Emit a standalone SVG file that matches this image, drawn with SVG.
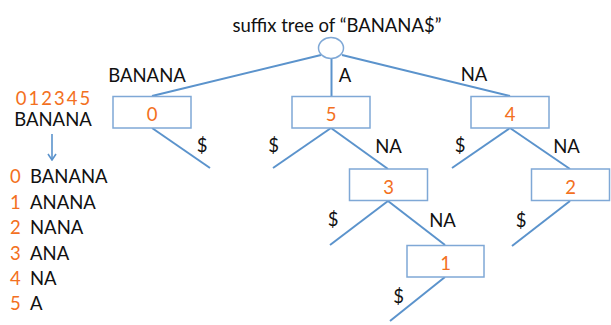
<svg xmlns="http://www.w3.org/2000/svg" width="611" height="325" viewBox="0 0 611 325">
  <defs>
    <style>
      text { font-family: Lato, "Liberation Sans", sans-serif; font-size: 18.5px; fill: #111; }
      .num { fill: #F37021; }
      .mid { text-anchor: middle; }
      .edge { stroke: #5B93CC; stroke-width: 2; fill: none; }
      .box { fill: #fff; stroke: #7FA8D6; stroke-width: 1.5; }
    </style>
    <!-- open V arrowhead, drawn pointing along +x -->
    <marker id="arrow" viewBox="0 0 10 10" refX="9" refY="5" markerWidth="10" markerHeight="10" orient="auto" markerUnits="userSpaceOnUse">
      <path d="M3,1 L9,5 L3,9" fill="none" stroke="#5B93CC" stroke-width="1.6"/>
    </marker>
  </defs>
  <rect width="611" height="325" fill="#fff"/>

  <text class="mid" x="337" y="32">suffix tree of “BANANA$”</text>

  <!-- index panel -->
  <g id="index-panel">
    <text class="num mid" x="54" y="105" letter-spacing="2">012345</text>
    <text class="mid" x="53" y="126">BANANA</text>
    <line x1="52" y1="134" x2="52" y2="160" stroke="#5B93CC" stroke-width="1.6" marker-end="url(#arrow)"/>
    <text class="num" x="10" y="183">0</text><text x="30" y="183">BANANA</text>
    <text class="num" x="10" y="208.5">1</text><text x="30" y="208.5">ANANA</text>
    <text class="num" x="10" y="234">2</text><text x="30" y="234">NANA</text>
    <text class="num" x="10" y="259.5">3</text><text x="30" y="259.5">ANA</text>
    <text class="num" x="10" y="285">4</text><text x="30" y="285">NA</text>
    <text class="num" x="10" y="310">5</text><text x="30" y="310">A</text>
  </g>

  <!-- tree edges -->
  <g id="edges">
    <line class="edge" x1="321" y1="55" x2="152" y2="96"/>
    <line class="edge" x1="331.5" y1="58" x2="331.5" y2="96"/>
    <line class="edge" x1="342" y1="55" x2="510" y2="96"/>
    <line class="edge" x1="152" y1="128" x2="210" y2="168"/>
    <line class="edge" x1="331" y1="128" x2="273" y2="168"/>
    <line class="edge" x1="331" y1="128" x2="388" y2="169"/>
    <line class="edge" x1="510" y1="128" x2="452" y2="168"/>
    <line class="edge" x1="510" y1="128" x2="570" y2="169"/>
    <line class="edge" x1="388" y1="201" x2="330" y2="245"/>
    <line class="edge" x1="388" y1="201" x2="445" y2="245"/>
    <line class="edge" x1="570" y1="201" x2="512" y2="246"/>
    <line class="edge" x1="445" y1="277" x2="390" y2="321"/>

    <text class="mid" x="147" y="82">BANANA</text>
    <text class="mid" x="345" y="82">A</text>
    <text class="mid" x="474" y="81">NA</text>
    <text class="mid" x="202" y="152">$</text>
    <text class="mid" x="273.5" y="152">$</text>
    <text class="mid" x="388.5" y="153">NA</text>
    <text class="mid" x="460" y="152">$</text>
    <text class="mid" x="566.5" y="153">NA</text>
    <text class="mid" x="333" y="226">$</text>
    <text class="mid" x="442.5" y="227">NA</text>
    <text class="mid" x="521" y="227">$</text>
    <text class="mid" x="398.5" y="303">$</text>
  </g>

  <!-- nodes -->
  <g id="root">
    <ellipse cx="331" cy="48" rx="12.5" ry="10.5" fill="#fff" stroke="#7FA8D6" stroke-width="1.5"/>
  </g>
  <g id="node-0">
    <rect class="box" x="113" y="96.5" width="78" height="31.5"/>
    <text class="num mid" x="152" y="121">0</text>
  </g>
  <g id="node-5">
    <rect class="box" x="292" y="96.5" width="78" height="31.5"/>
    <text class="num mid" x="331" y="121">5</text>
  </g>
  <g id="node-4">
    <rect class="box" x="471" y="96.5" width="78" height="31.5"/>
    <text class="num mid" x="510" y="121">4</text>
  </g>
  <g id="node-3">
    <rect class="box" x="349.5" y="169" width="78" height="31.5"/>
    <text class="num mid" x="388.5" y="193.5">3</text>
  </g>
  <g id="node-2">
    <rect class="box" x="531.5" y="169" width="78" height="31.5"/>
    <text class="num mid" x="570.5" y="193.5">2</text>
  </g>
  <g id="node-1">
    <rect class="box" x="407" y="245.5" width="77" height="31.5"/>
    <text class="num mid" x="445.5" y="270">1</text>
  </g>
</svg>
